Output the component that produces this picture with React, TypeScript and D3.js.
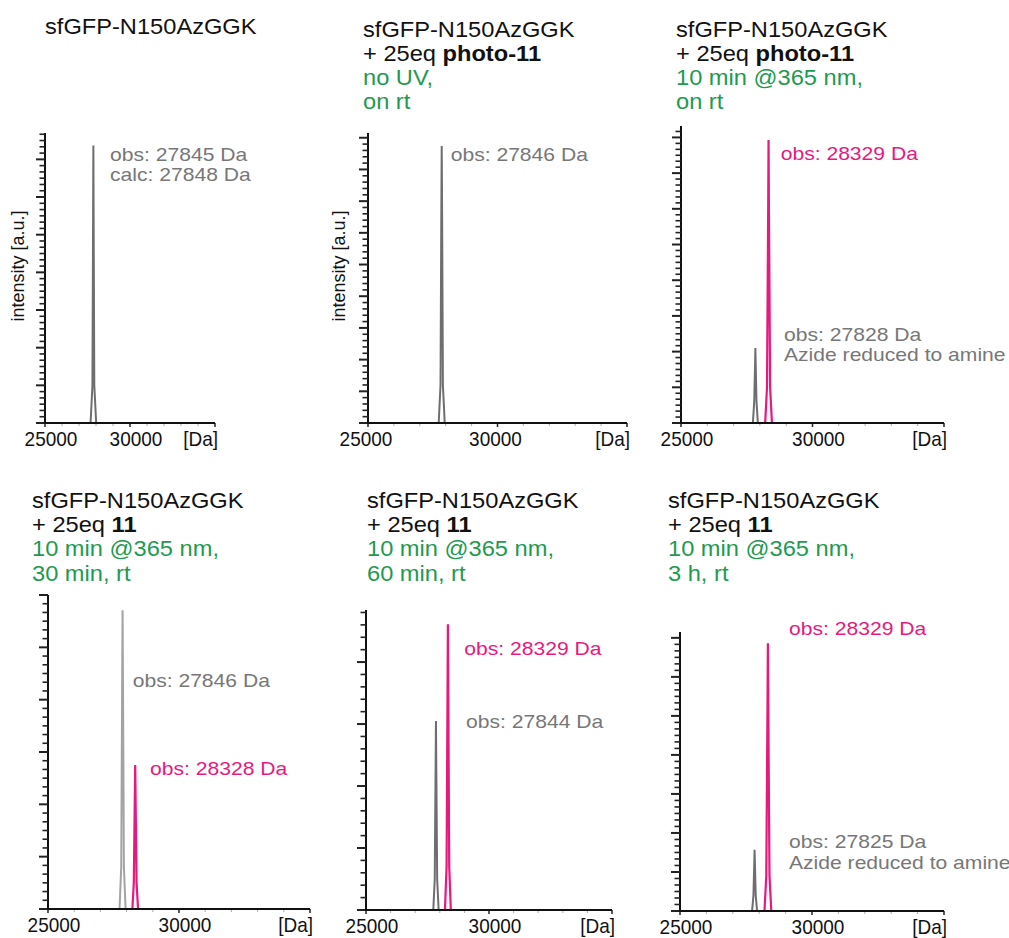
import React from "react";
import * as d3 from "d3";

type Pt = [number, number];

// ---- data ----
const proteinName = "sfGFP-N150AzGGK";
const reagentNames: (string | null)[] = [null, "photo-11", "photo-11", "11", "11", "11"];
const conditionLines: string[][] = [
  [],
  ["no UV,", "on rt"],
  ["10 min @365 nm,", "on rt"],
  ["10 min @365 nm,", "30 min, rt"],
  ["10 min @365 nm,", "60 min, rt"],
  ["10 min @365 nm,", "3 h, rt"],
];

const massDomain: [number, number] = [25000, 35000];
const massTickLabels = [25000, 30000];
const intensityMax = [7.7, 9.15, 8.32, 6.0, 4.84, 7.15];
const minorPerMajor = [6, 5, 6, 6, 5, 6];

// [mass (Da), intensity (a.u., in major tick units)]
const grayPeaks: Pt[][] = [
  [[27680, 0], [27790, 1.0], [27830, 5.5], [27845, 7.37], [27860, 5.5], [27900, 1.0], [28010, 0]],
  [[27730, 0], [27800, 1.2], [27830, 6.5], [27846, 8.74], [27862, 6.5], [27892, 1.2], [27962, 0]],
  [[27733, 0], [27785, 0.6], [27815, 1.6], [27828, 2.1], [27841, 1.6], [27871, 0.6], [27923, 0]],
  [[27730, 0], [27795, 0.8], [27830, 4.3], [27846, 5.71], [27862, 4.3], [27897, 0.8], [27962, 0]],
  [[27735, 0], [27795, 0.5], [27830, 2.3], [27844, 3.05], [27858, 2.3], [27893, 0.5], [27953, 0]],
  [[27730, 0], [27782, 0.4], [27812, 1.2], [27825, 1.57], [27838, 1.2], [27868, 0.4], [27920, 0]],
];
const pinkPeaks: (Pt[] | null)[] = [
  null,
  null,
  [[28200, 0], [28270, 1.0], [28315, 6.0], [28329, 7.93], [28343, 6.0], [28388, 1.0], [28458, 0]],
  [[28220, 0], [28275, 0.5], [28313, 2.1], [28328, 2.75], [28343, 2.1], [28381, 0.5], [28436, 0]],
  [[28210, 0], [28275, 0.7], [28314, 3.5], [28329, 4.61], [28344, 3.5], [28383, 0.7], [28448, 0]],
  [[28200, 0], [28268, 0.9], [28314, 5.2], [28329, 6.86], [28344, 5.2], [28390, 0.9], [28458, 0]],
];
const grayLabels: string[][] = [
  ["obs: 27845 Da", "calc: 27848 Da"],
  ["obs: 27846 Da"],
  ["obs: 27828 Da", "Azide reduced to amine"],
  ["obs: 27846 Da"],
  ["obs: 27844 Da"],
  ["obs: 27825 Da", "Azide reduced to amine"],
];
const pinkLabels: (string | null)[] = [null, null, "obs: 28329 Da", "obs: 28328 Da", "obs: 28329 Da", "obs: 28329 Da"];
const yAxisTitle = "intensity [a.u.]";
const unitLabel = "[Da]";

// ---- layout ----
const frames = [
  { x0: 45, x1: 215, top: 133, base: 423, tx: 45, ty: 34, yl: 24, gx: 110, gy: 160.7, px: 0, py: 0, dx: 6 },
  { x0: 368, x1: 627, top: 133, base: 423, tx: 363, ty: 36.7, yl: 345, gx: 450.7, gy: 160.7, px: 0, py: 0, dx: -2 },
  { x0: 681, x1: 944, top: 126, base: 423, tx: 676, ty: 36.7, yl: null, gx: 784, gy: 340.7, px: 780.7, py: 160, dx: 6 },
  { x0: 48, x1: 310, top: 595, base: 909, tx: 32, ty: 508, yl: null, gx: 132.7, gy: 686.7, px: 150, py: 775, dx: 6 },
  { x0: 366, x1: 612, top: 610, base: 910, tx: 367, ty: 508, yl: null, gx: 466, gy: 728, px: 464.3, py: 655, dx: 6 },
  { x0: 680, x1: 944, top: 632, base: 911, tx: 668, ty: 508, yl: null, gx: 789, gy: 848.3, px: 789, py: 635, dx: 6 },
];

const FONT = "'Liberation Sans', Arial, sans-serif";
const GREEN = "#1e9a4f";
const PINK = "#e6197f";
const GRAY_TXT = "#777777";
const GRAY_LINE = "#6e6e6e";
const LINE_H = 24.2;

function Panel({ i }: { i: number }) {
  const f = frames[i];
  const x = d3.scaleLinear().domain(massDomain).range([f.x0, f.x1]);
  const y = d3.scaleLinear().domain([0, intensityMax[i]]).range([f.base, f.top]);
  const line = d3.line<Pt>().x((d) => x(d[0])).y((d) => y(d[1]));

  const minorStep = 1 / minorPerMajor[i];
  const yTicks = d3.range(0, intensityMax[i] + 1e-9, minorStep);
  const xMinor = d3.range(massDomain[0], massDomain[1] + 1, 1000);

  const titleLines: React.ReactNode[] = [
    <tspan key="a">{proteinName}</tspan>,
  ];
  if (reagentNames[i]) {
    titleLines.push(
      <>
        <tspan>+ 25eq </tspan>
        <tspan fontWeight="bold">{reagentNames[i]}</tspan>
      </>
    );
  }

  return (
    <g>
      {/* title */}
      {titleLines.map((t, k) => (
        <g key={"t" + k} transform={`translate(${f.tx},${f.ty + k * LINE_H}) scale(1.1,1)`}>
          <text fontSize={21.5} fill="#111">{t}</text>
        </g>
      ))}
      {conditionLines[i].map((t, k) => (
        <g key={"c" + k} transform={`translate(${f.tx},${f.ty + (k + 2) * LINE_H}) scale(1.1,1)`}>
          <text fontSize={21.5} fill={GREEN}>{t}</text>
        </g>
      ))}

      {/* peaks */}
      <path d={line(grayPeaks[i]) || ""} fill="none" stroke={i === 3 ? "#a3a3a3" : GRAY_LINE} strokeWidth={2} />
      {pinkPeaks[i] && (
        <path d={line(pinkPeaks[i] as Pt[]) || ""} fill="none" stroke={PINK} strokeWidth={2.2} />
      )}

      {/* y axis */}
      <line x1={f.x0} x2={f.x0} y1={f.base} y2={f.top} stroke="#111" strokeWidth={2} />
      {yTicks.map((t, k) => {
        const major = k % minorPerMajor[i] === 0;
        return (
          <line key={"y" + k} x1={f.x0 - (major ? 9 : 5.5)} x2={f.x0} y1={y(t)} y2={y(t)} stroke="#222" strokeWidth={major ? 2 : 1.6} />
        );
      })}

      {/* x axis */}
      {xMinor.map((m) => {
        const major = m % 5000 === 0;
        return (
          <line key={"x" + m} x1={x(m)} x2={x(m)} y1={f.base} y2={f.base + (major ? 4 : 3)} stroke={major ? "#222" : "#aaa"} strokeWidth={major ? 1.5 : 1} />
        );
      })}
      <line x1={f.x0 - 1} x2={f.x1} y1={f.base} y2={f.base} stroke="#111" strokeWidth={2} />
      {massTickLabels.map((m) => (
        <g key={"xl" + m} transform={`translate(${x(m) + f.dx},${f.base + 23}) scale(0.95,1)`}>
          <text fontSize={20} textAnchor="middle" fill="#111">{m}</text>
        </g>
      ))}
      <g transform={`translate(${f.x1 + 3},${f.base + 23}) scale(0.95,1)`}>
        <text fontSize={20} textAnchor="end" fill="#111">{unitLabel}</text>
      </g>

      {/* y title */}
      {f.yl !== null && (
        <text transform={`translate(${f.yl},${(f.base + f.top) / 2 - 12}) rotate(-90)`} fontSize={18} textAnchor="middle" fill="#111">
          {yAxisTitle}
        </text>
      )}

      {/* peak labels */}
      {grayLabels[i].map((t, k) => (
        <g key={"gl" + k} transform={`translate(${f.gx},${f.gy + k * 20.5}) scale(1.16,1)`}>
          <text fontSize={18.2} fill={GRAY_TXT}>{t}</text>
        </g>
      ))}
      {pinkLabels[i] && (
        <g transform={`translate(${f.px},${f.py}) scale(1.16,1)`}>
          <text fontSize={18.2} fill={PINK}>{pinkLabels[i]}</text>
        </g>
      )}
    </g>
  );
}

export default function App() {
  return (
    <svg
      width={1009}
      height={938}
      style={{ position: "absolute", left: 0, top: 0, background: "#fff" }}
      fontFamily={FONT}
    >
      <rect width={1009} height={938} fill="#fff" />
      {frames.map((_, i) => (
        <Panel key={i} i={i} />
      ))}
    </svg>
  );
}
